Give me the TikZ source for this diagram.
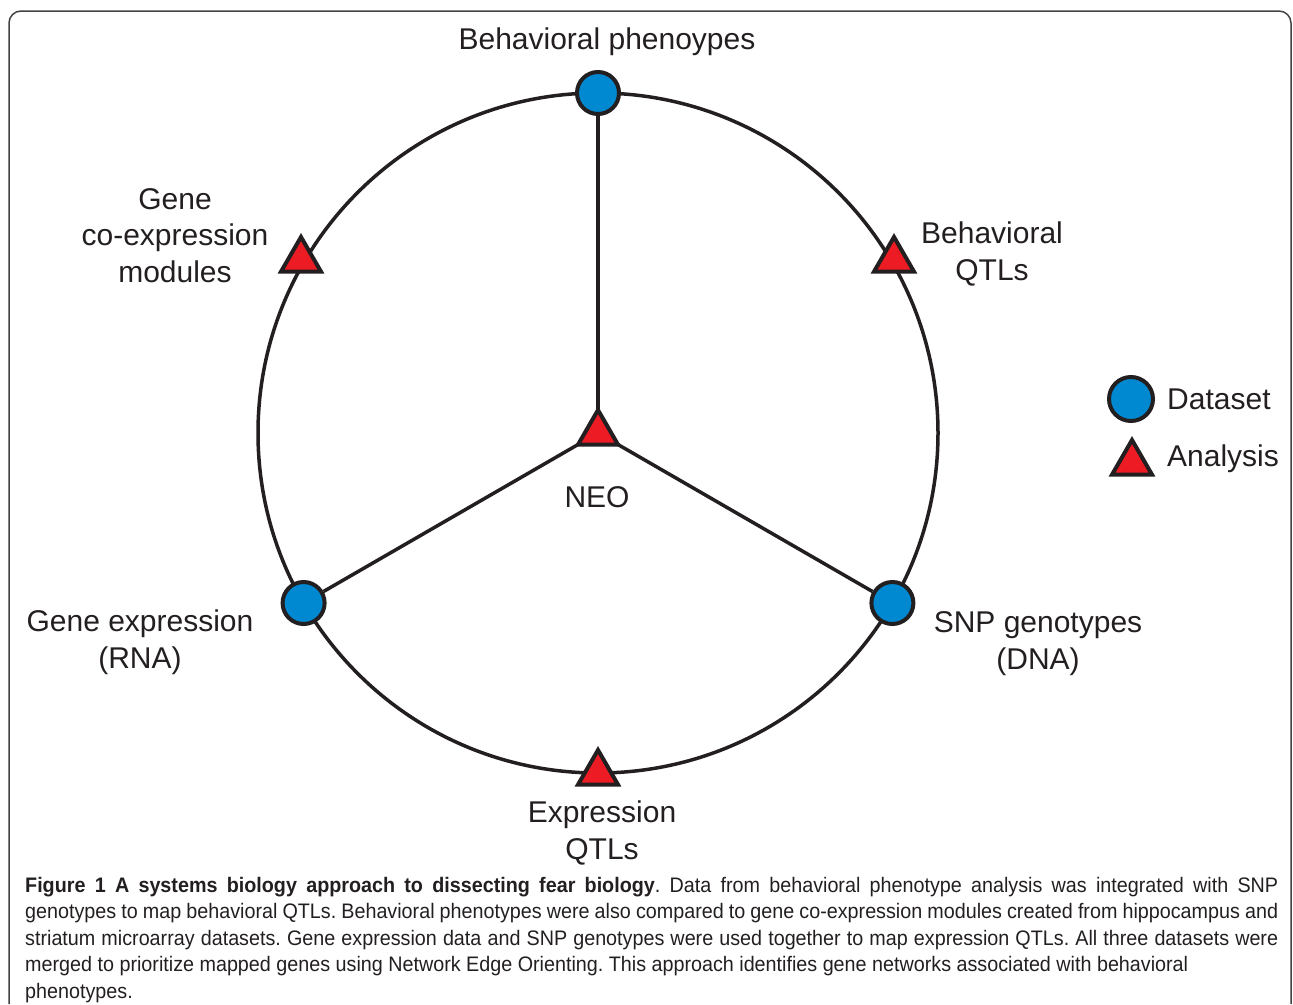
\documentclass[tikz,border=0pt]{standalone}
\usepackage{fontspec}
\setmainfont{Liberation Sans}
\newfontfamily\capfont[FakeStretch=0.94]{Liberation Sans}
\usetikzlibrary{shapes.geometric}
\definecolor{dblue}{RGB}{0,136,209}
\definecolor{ared}{RGB}{237,28,36}
\definecolor{ink}{RGB}{35,31,32}
\frenchspacing
\begin{document}
\begin{tikzpicture}[x=1pt,y=-1pt,
  dataset/.style={circle,draw=ink,fill=dblue,line width=4pt,inner sep=0pt,minimum size=42pt},
  analysis/.style={regular polygon,regular polygon sides=3,draw=ink,fill=ared,line width=4pt,inner sep=0pt,minimum size=46pt},
  lbl/.style={font=\fontsize{30}{36.5}\selectfont,text=ink,inner sep=0pt,align=center,anchor=base},
  wire/.style={draw=ink,line width=3.5pt}]
\useasboundingbox (0,0) rectangle (1293,1004);
\draw[ink!85,line width=1.5pt,rounded corners=12pt] (9,1004) -- (9,11) -- (1291,11) -- (1291,1004);
% ring
\coordinate (c) at (598,433);
\draw[wire] (c) circle[radius=340pt];
% nodes
\node[dataset] (beh) at (598,93) {};
\node[dataset] (rna) at (303.6,603) {};
\node[dataset] (dna) at (892.4,603) {};
\node[analysis] (gcm) at (301,260) {};
\node[analysis] (bqtl) at (894,260) {};
\node[analysis] (eqtl) at (598,773) {};
\draw[wire] (beh) -- (c);
\draw[wire] (rna) -- (c);
\draw[wire] (dna) -- (c);
\node[analysis] (neo) at (c) {};
% labels
\node[lbl] (tbeh) at (607,49) {Behavioral phenoypes};
\node[lbl] (tgcm) at (175,282) {Gene\\co-expression\\modules};
\node[lbl] (tbqtl) at (992,280) {Behavioral\\QTLs};
\node[lbl] (trna) at (140,668) {Gene expression\\(RNA)};
\node[lbl] (tdna) at (1038,669) {SNP genotypes\\(DNA)};
\node[lbl] (tneo) at (597,507) {NEO};
\node[lbl] (teqtl) at (602,859) {Expression\\QTLs};
% legend
\node[dataset,minimum size=44pt] (legd) at (1131,399) {};
\node[analysis] (lega) at (1132,463) {};
\node[lbl,anchor=base west] (tlegd) at (1167,409) {Dataset};
\node[lbl,anchor=base west] (tlega) at (1167,466) {Analysis};
% caption
\node[anchor=north west,inner sep=0pt,text width=1253pt,align=justify,text=ink,
  font=\capfont\fontsize{21}{26.5}\selectfont] (cap) at (25,877)
{\textbf{Figure 1 A systems biology approach to dissecting fear biology}. Data from behavioral phenotype analysis was integrated with SNP\linebreak
genotypes to map behavioral QTLs. Behavioral phenotypes were also compared to gene co-expression modules created from hippocampus and\linebreak
striatum microarray datasets. Gene expression data and SNP genotypes were used together to map expression QTLs. All three datasets were\linebreak
merged to prioritize mapped genes using Network Edge Orienting. This approach identifies gene networks associated with behavioral\\
phenotypes.};
\end{tikzpicture}
\end{document}
